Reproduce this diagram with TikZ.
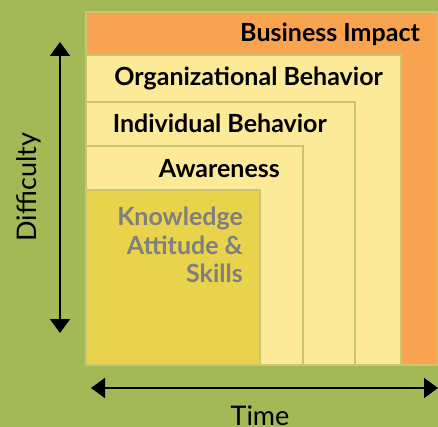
\documentclass[tikz,border=0pt]{standalone}
\usepackage{fontspec}
\setmainfont{Lato}
\usetikzlibrary{arrows.meta,positioning}
\definecolor{bggreen}{HTML}{A2B955}
\definecolor{impactorange}{HTML}{F7A34F}
\definecolor{paleyellow}{HTML}{FDEA98}
\definecolor{knowyellow}{HTML}{E9D34C}
\definecolor{edgeline}{HTML}{C9C76E}
\definecolor{labelgray}{HTML}{7F7F7F}

\begin{document}
\begin{tikzpicture}[x=1pt, y=-1pt,
    level/.style={rectangle, draw=edgeline, line width=2pt, anchor=north west, inner sep=0pt, outer sep=0pt},
    title/.style={font=\bfseries\fontsize{25}{28.5}\selectfont, text=black, inner sep=0pt, text height=18pt, text depth=5pt},
    axislabel/.style={font=\fontsize{27}{30}\selectfont, text=black, inner sep=0pt},
    axisline/.style={line width=2pt, {Triangle[width=20pt,length=14pt]}-{Triangle[width=20pt,length=14pt]}}]
    \fill [bggreen] (0,0) rectangle (438,427);
    \useasboundingbox (0,0) rectangle (438,427);

    \node (impact) [level, fill=impactorange, minimum width=352pt, minimum height=353pt] at (86,12) {};
    \node (orgbeh) [level, fill=paleyellow, minimum width=315pt, minimum height=310pt] at (86,55) {};
    \node (indbeh) [level, fill=paleyellow, minimum width=269pt, minimum height=263pt] at (86,102) {};
    \node (aware) [level, fill=paleyellow, minimum width=217pt, minimum height=219pt] at (86,146) {};
    \node (know) [level, fill=knowyellow, minimum width=174pt, minimum height=175pt] at (86,190) {};

    \node (impacttxt) [title, below left=11pt and 18pt of impact.north east] {Business Impact};
    \node (orgtxt) [title, below left=12pt and 18pt of orgbeh.north east] {Organizational Behavior};
    \node (indtxt) [title, below left=12pt and 28pt of indbeh.north east] {Individual Behavior};
    \node (awaretxt) [title, below left=13pt and 23pt of aware.north east] {Awareness};
    \node (knowtxt) [font=\bfseries\fontsize{25}{28.5}\selectfont, text=labelgray, inner sep=0pt, align=right,
        below left=17pt and 17pt of know.north east] {Knowledge\\Attitude \&\\Skills};

    \coordinate (dtop) at (60,42);
    \coordinate (dbot) at (60,333);
    \coordinate (tleft) at (91,388);
    \coordinate (tright) at (438,388);
    \draw [axisline] (dtop) -- (dbot);
    \draw [axisline] (tleft) -- (tright);

    \node (difficulty) [axislabel, rotate=90] at (29,187) {Difficulty};
    \node (time) [axislabel, anchor=base] at (260,425) {Time};
\end{tikzpicture}
\end{document}
